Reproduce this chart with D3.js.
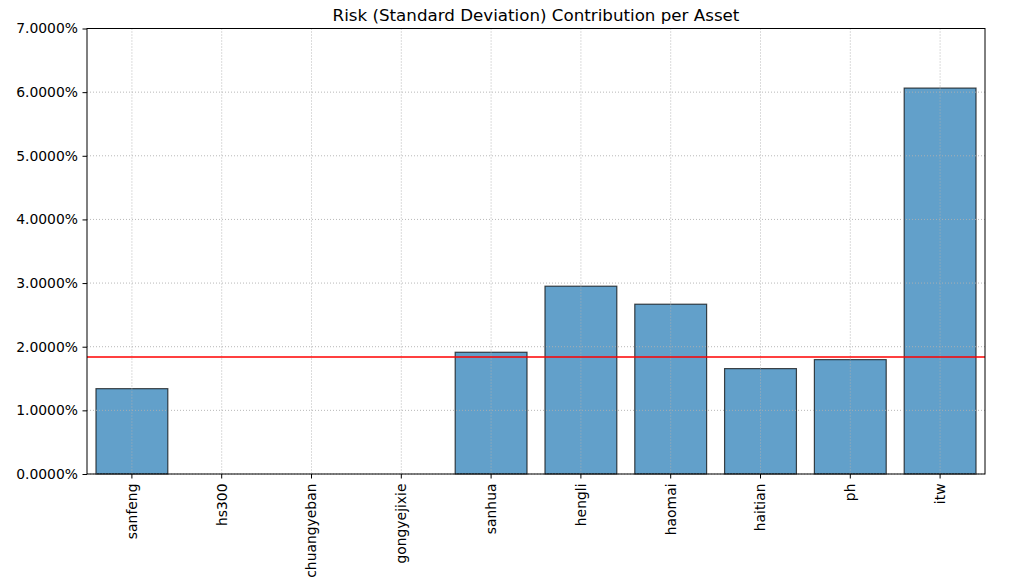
<!DOCTYPE html>
<html><head><meta charset="utf-8">
<script src="https://cdn.jsdelivr.net/npm/d3@7"></script>
<style>body{margin:0;background:#fff}svg{display:block}text{font-family:"DejaVu Sans",sans-serif}</style>
</head><body>
<svg id="c" width="1011" height="586"></svg>
<script>
const categories = ["sanfeng","hs300","chuangyeban","gongyejixie","sanhua","hengli","haomai","haitian","ph","itw"];
const values = [0.01341,0,0,0,0.01913,0.02951,0.02668,0.01656,0.01797,0.06064];
const yTicks = [0,0.01,0.02,0.03,0.04,0.05,0.06,0.07];
const title = "Risk (Standard Deviation) Contribution per Asset";
const meanValue = d3.mean(values);

const svg = d3.select("#c");
const m = {l:87, r:1011-985, t:28.5, b:586-474};
const W = 1011, H = 586;
const x = d3.scaleBand().domain(categories).range([m.l, W-m.r]).paddingInner(0.2).paddingOuter(0.1);
const y = d3.scaleLinear().domain([0,0.07]).range([H-m.b, m.t]);

// bars
svg.append("g").selectAll("rect").data(values).join("rect")
  .attr("x",(d,i)=>x(categories[i]))
  .attr("width",x.bandwidth())
  .attr("y",d=>y(d))
  .attr("height",d=>y(0)-y(d))
  .attr("fill","#1f77b4").attr("fill-opacity",0.7)
  .attr("stroke","#000").attr("stroke-opacity",0.7).attr("stroke-width",1.2);

// grid
const g = svg.append("g").attr("stroke","#b0b0b0").attr("stroke-width",0.9).attr("stroke-dasharray","1,2");
g.selectAll(".gy").data(yTicks).join("line")
  .attr("x1",m.l).attr("x2",W-m.r).attr("y1",d=>y(d)).attr("y2",d=>y(d));
g.selectAll(".gx").data(categories).join("line")
  .attr("x1",d=>x(d)+x.bandwidth()/2).attr("x2",d=>x(d)+x.bandwidth()/2)
  .attr("y1",m.t).attr("y2",H-m.b);

// mean line
svg.append("line").attr("x1",m.l).attr("x2",W-m.r).attr("y1",y(meanValue)).attr("y2",y(meanValue))
  .attr("stroke","red").attr("stroke-width",1.5);

// axes
const fmt = d=>(d*100).toFixed(4)+"%";
const ya = svg.append("g").attr("transform",`translate(${m.l},0)`)
  .call(d3.axisLeft(y).tickValues(yTicks).tickFormat(fmt).tickSize(4.5).tickPadding(4.5));
ya.select(".domain").remove();
ya.selectAll("text").attr("font-size","13.9px").attr("fill","#000").attr("font-family","DejaVu Sans");
const xa = svg.append("g").attr("transform",`translate(0,${H-m.b})`)
  .call(d3.axisBottom(x).tickSize(4.5).tickPadding(4));
xa.select(".domain").remove();
xa.selectAll("text").attr("font-size","13.9px").attr("fill","#000").attr("font-family","DejaVu Sans")
  .attr("transform","rotate(-90)").attr("text-anchor","end").attr("dy","0.35em").attr("y",0).attr("x",-9.5);

// frame
svg.append("rect").attr("x",m.l).attr("y",m.t).attr("width",W-m.r-m.l).attr("height",H-m.b-m.t)
  .attr("fill","none").attr("stroke","#000").attr("stroke-width",1);

svg.append("text").attr("x",(m.l+W-m.r)/2).attr("y",21).attr("text-anchor","middle")
  .attr("font-size","16.7px").text(title);
</script>
</body></html>
